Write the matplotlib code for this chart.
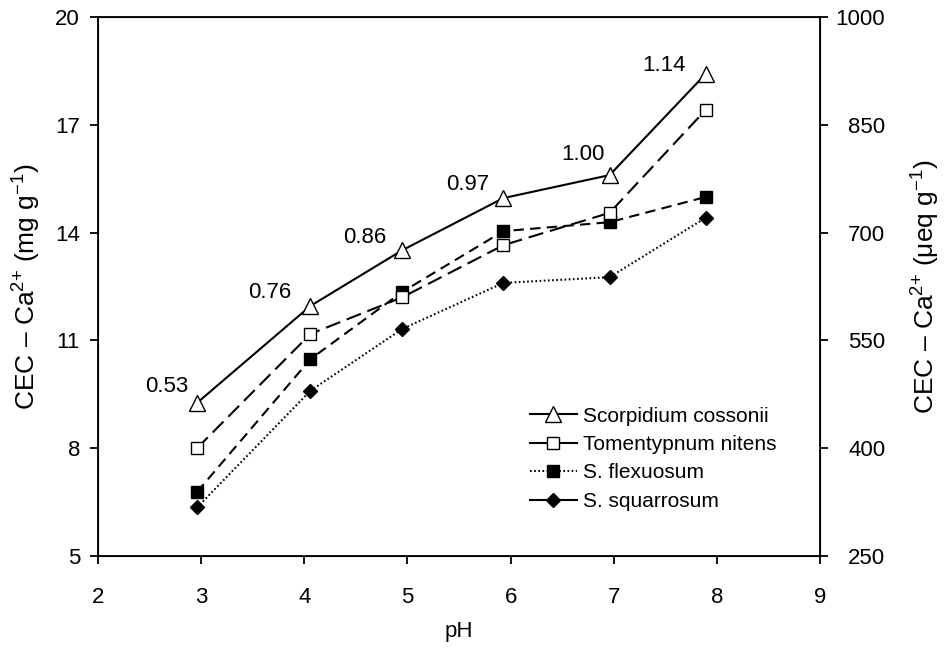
import matplotlib
matplotlib.use("Agg")
import matplotlib.pyplot as plt
from matplotlib.lines import Line2D

plt.rcParams["font.family"] = ["Liberation Sans", "DejaVu Sans"]
plt.rcParams["mathtext.fontset"] = "custom"
plt.rcParams["mathtext.rm"] = "Liberation Sans"
plt.rcParams["mathtext.it"] = "Liberation Sans:italic"
plt.rcParams["lines.scale_dashes"] = False

# data (CEC in mg g-1)
ph = [2.96, 4.06, 4.95, 5.93, 6.96, 7.89]
scorpidium = [9.26, 11.96, 13.51, 14.96, 15.6, 18.41]
tomentypnum = [8.0, 11.18, 12.2, 13.65, 14.55, 17.41]
flexuosum = [6.78, 10.48, 12.35, 14.04, 14.29, 14.99]
squarrosum = [6.35, 9.6, 11.32, 12.6, 12.76, 14.41]
ratios = ["0.53", "0.76", "0.86", "0.97", "1.00", "1.14"]
species = ["Scorpidium cossonii", "Tomentypnum nitens", "S. flexuosum", "S. squarrosum"]

# where each ratio label sits relative to its triangle (points)
label_offsets = [(-22, 11.5), (-29, 10), (-27, 9), (-26, 9.5), (-19.5, 14.5), (-30, 6.5)]

LONG = (0, (11, 5))
SHORT = (0, (7.5, 4.5))
DOT = (0, (1.2, 1.8))

fig = plt.figure(figsize=(9.45, 6.51), dpi=100)
ax = fig.add_axes([98 / 945, 1 - 556 / 651, (820 - 98) / 945, (556 - 17) / 651])

ax.plot(ph, scorpidium, color="black", lw=1.5, ls="-",
        marker="^", ms=12, mfc="white", mec="black", mew=1.0, zorder=5)
ax.plot(ph, tomentypnum, color="black", lw=1.5, ls=LONG,
        marker="s", ms=9, mfc="white", mec="black", mew=1.0, zorder=4)
ax.plot(ph, flexuosum, color="black", lw=1.5, ls=SHORT,
        marker="s", ms=9, mfc="black", mec="black", zorder=3)
ax.plot(ph, squarrosum, color="black", lw=1.5, ls=DOT,
        marker="D", ms=7.5, mfc="black", mec="black", zorder=3)

for x, y, t, off in zip(ph, scorpidium, ratios, label_offsets):
    ax.annotate(t, (x, y), xytext=off, textcoords="offset points",
                ha="center", va="center", fontsize=16)

ax.set_xlim(2, 9)
ax.set_ylim(5, 20)
ax.set_xticks(range(2, 10))
ax.set_yticks([5, 8, 11, 14, 17, 20])
ax.tick_params(direction="out", length=6, width=1.3, labelsize=16, pad=7)
ax.tick_params(axis="x", pad=16)
for s in ax.spines.values():
    s.set_linewidth(1.3)
ax.set_xlabel("pH", fontsize=16, labelpad=10)
ax.set_ylabel("CEC – Ca$^{2{+}}$ (mg g$^{-1}$)", fontsize=19, labelpad=9)

ax2 = ax.twinx()
ax2.set_ylim(250, 1000)
ax2.set_yticks([250, 400, 550, 700, 850, 1000])
ax2.tick_params(direction="out", length=6, width=1.3, labelsize=16, pad=41)
for lab in ax2.get_yticklabels():
    lab.set_ha("right")
ax2.set_ylabel("CEC – Ca$^{2{+}}$ (μeq g$^{-1}$)", fontsize=19, labelpad=18)

handles = [
    Line2D([], [], color="black", lw=1.5, ls="-", marker="^", ms=12, mfc="white", mec="black"),
    Line2D([], [], color="black", lw=1.5, ls="-", marker="s", ms=9, mfc="white", mec="black"),
    Line2D([], [], color="black", lw=1.5, ls=DOT, marker="s", ms=9, mfc="black"),
    Line2D([], [], color="black", lw=1.5, ls="-", marker="D", ms=7.5, mfc="black"),
]
ax.legend(handles, species, loc="upper left", bbox_to_anchor=(0.598, 0.277),
          frameon=False, fontsize=15, handlelength=2.25, handletextpad=0.3,
          labelspacing=0.45, borderpad=0, borderaxespad=0)

fig.savefig("out.png", dpi=100)
